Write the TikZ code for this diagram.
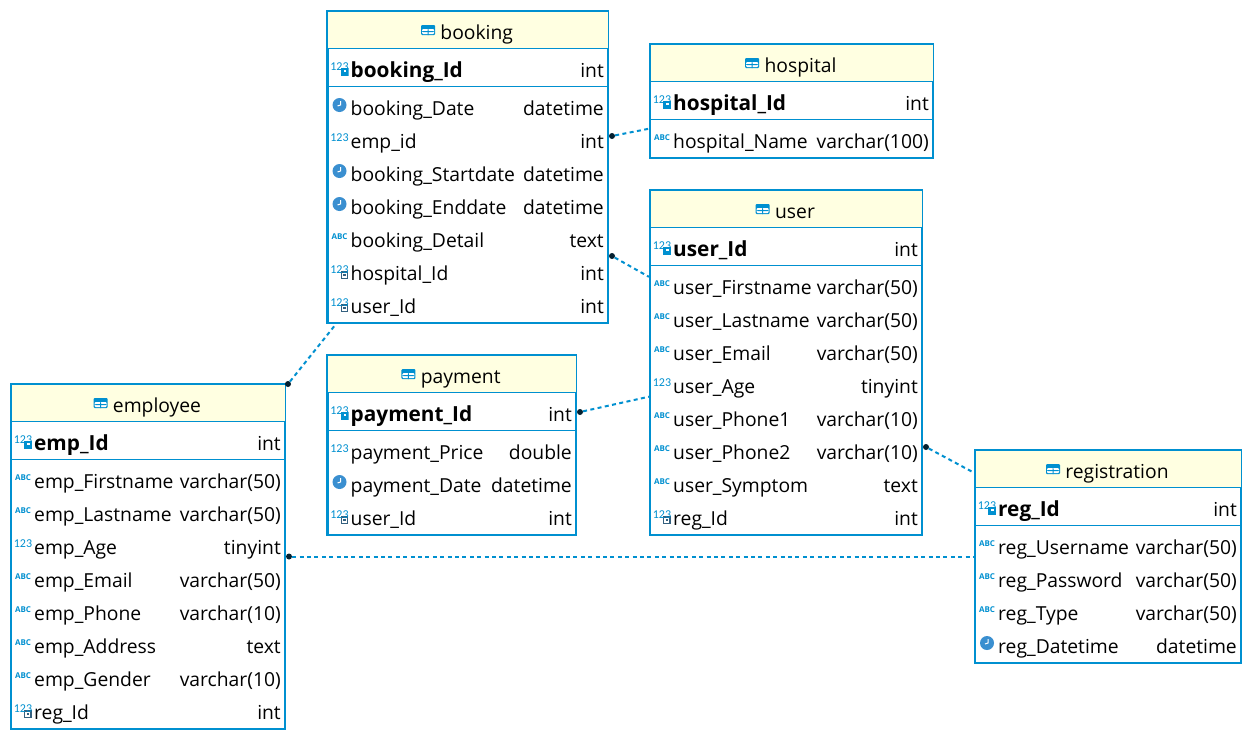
\documentclass[tikz,border=0pt]{standalone}
\usepackage{fontspec}
\setmainfont{Open Sans}
\newfontfamily\iconfont{Carlito}
\usepackage{tikz}
\usetikzlibrary{arrows.meta,positioning}
\definecolor{Line}{HTML}{0090D0}
\definecolor{Cream}{HTML}{FFFFE1}
\definecolor{Clock}{HTML}{3A8FD0}
\definecolor{Slate}{HTML}{34607F}
\definecolor{Dot}{HTML}{04202F}

\tikzset{
  frame/.style={draw=Line,line width=2.2pt,fill=white,inner sep=0pt},
  head/.style={fill=Cream,inner sep=0pt,minimum height=36pt},
  sep/.style={draw=Line,line width=1pt},
  txt/.style={inner sep=0pt,font=\fontsize{19.3}{23}\selectfont,text=black},
  iconbase/.style={inner sep=0pt,minimum width=18pt,minimum height=20pt,text=Line,font=\iconfont\fontsize{12}{12}\selectfont},
  numicon/.style={iconbase,node contents={123}},
  abcicon/.style={iconbase,font=\bfseries\fontsize{8}{8}\selectfont,node contents={ABC}},
  clockicon/.style={circle,fill=Clock,inner sep=0pt,minimum size=14pt,node contents={},
    path picture={\draw[white,line width=1pt] (path picture bounding box.center)++(1,-4)--++(0,4)--++(-3,1);}},
  pkicon/.style={numicon,path picture={
    \fill[Line] (path picture bounding box.center)++(1,0.5) rectangle ++(8,8.5);
    \fill[white] (path picture bounding box.center)++(4,2.5) rectangle ++(2.5,2);}},
  fkicon/.style={numicon,path picture={
    \filldraw[draw=Slate,fill=white,line width=1.4pt] (path picture bounding box.center)++(1.7,2) rectangle ++(6.3,6.3);
    \fill[Slate] (path picture bounding box.center)++(3.5,3.8) rectangle ++(2.5,2.5);}},
  tableicon/.style={draw=none,fill=Line,rounded corners=1pt,inner sep=0pt,minimum width=14pt,minimum height=10pt,
    path picture={
      \fill[white] (path picture bounding box.center)++(-6,-1) rectangle ++(12,5);
      \fill[Line] (path picture bounding box.center)++(-0.5,-1) rectangle ++(1,6);
      \fill[Line] (path picture bounding box.center)++(-6,1) rectangle ++(12,1);}},
  rel/.style={draw=Line,line width=2pt,dash pattern=on 4pt off 3.4pt},
  enddot/.style={circle,fill=Dot,inner sep=0pt,minimum size=6pt}
}

% name, left, top, right, bottom, title, key column, key type, rows
\newcommand{\erentity}[9]{
  \pgfmathsetmacro\cx{(#2+#4)/2}
  \pgfmathsetmacro\cy{(#3+#5)/2}
  \pgfmathsetmacro\boxw{#4-#2}
  \pgfmathsetmacro\boxh{#5-#3}
  \pgfmathsetmacro\headw{#4-#2-1}
  \node[frame,minimum width=\boxw pt,minimum height=\boxh pt] (#1) at (\cx,\cy) {};
  \node[head,anchor=north,minimum width=\headw pt] (#1-head) at (\cx,#3+1) {};
  \draw[sep] (#1-head.south west)--(#1-head.south east);
  \node[txt,anchor=base] (#1-title) at (\cx+9,#3+28) {#6};
  \node[tableicon,left=5pt of #1-title.base west,yshift=9pt] (#1-icon) {};
  \node (#1-keyicon) at (#2+12,#3+56) [pkicon];
  \node[txt,anchor=base west,font=\fontsize{20.8}{23}\selectfont\bfseries] (#1-key) at (#2+23,#3+66) {#7};
  \node[txt,anchor=base east] (#1-keytype) at (#4-4,#3+66) {#8};
  \draw[sep] (#2,#3+75)--(#4,#3+75);
  \foreach \ic/\col/\typ [count=\n] in {#9}{
    \pgfmathsetmacro\ry{#3+97+33*(\n-1)}
    \node (#1-ic\n) at (#2+12,\ry-3) [\ic];
    \node[txt,anchor=base west] (#1-col\n) at (#2+23,\ry+7) {\col};
    \node[txt,anchor=base east] (#1-typ\n) at (#4-4,\ry+7) {\typ};
  }
}

\begin{document}
\begin{tikzpicture}[x=1pt,y=-1pt]
\useasboundingbox (0,0) rectangle (1252,740);
\fill[white] (0,0) rectangle (1252,740);

\erentity{booking}{327.5}{11}{608}{323}{booking}{booking\_Id}{int}{
  clockicon/booking\_Date/datetime,
  numicon/emp\_id/int,
  clockicon/booking\_Startdate/datetime,
  clockicon/booking\_Enddate/datetime,
  abcicon/booking\_Detail/text,
  fkicon/hospital\_Id/int,
  fkicon/user\_Id/int}
\erentity{hospital}{650}{44}{933}{158}{hospital}{hospital\_Id}{int}{
  abcicon/hospital\_Name/varchar(100)}
\erentity{user}{650}{190}{922}{535}{user}{user\_Id}{int}{
  abcicon/user\_Firstname/varchar(50),
  abcicon/user\_Lastname/varchar(50),
  abcicon/user\_Email/varchar(50),
  numicon/user\_Age/tinyint,
  abcicon/user\_Phone1/varchar(10),
  abcicon/user\_Phone2/varchar(10),
  abcicon/user\_Symptom/text,
  fkicon/reg\_Id/int}
\erentity{payment}{327.5}{355}{576}{535}{payment}{payment\_Id}{int}{
  numicon/payment\_Price/double,
  clockicon/payment\_Date/datetime,
  fkicon/user\_Id/int}
\erentity{employee}{11}{384}{285}{729}{employee}{emp\_Id}{int}{
  abcicon/emp\_Firstname/varchar(50),
  abcicon/emp\_Lastname/varchar(50),
  numicon/emp\_Age/tinyint,
  abcicon/emp\_Email/varchar(50),
  abcicon/emp\_Phone/varchar(10),
  abcicon/emp\_Address/text,
  abcicon/emp\_Gender/varchar(10),
  fkicon/reg\_Id/int}
\erentity{registration}{975}{450}{1241}{663}{registration}{reg\_Id}{int}{
  abcicon/reg\_Username/varchar(50),
  abcicon/reg\_Password/varchar(50),
  abcicon/reg\_Type/varchar(50),
  clockicon/reg\_Datetime/datetime}

\node[enddot] (dothospital) at (612,136) {};
\node[enddot] (dotuser) at (612,256) {};
\node[enddot] (dotbooking) at (288,384) {};
\node[enddot] (dotpayment) at (580,412) {};
\node[enddot] (dotreg) at (926,447) {};
\node[enddot] (dotemp) at (289,556.5) {};

\draw[rel] (dothospital)--(hospital.191);
\draw[rel] (dotuser)--(user.148);
\draw[rel] (dotbooking)--(booking.230);
\draw[rel] (dotpayment)--(user.194);
\draw[rel] (dotreg)--(registration.148);
\draw[rel] (dotemp)--(registration.west);
\end{tikzpicture}
\end{document}
